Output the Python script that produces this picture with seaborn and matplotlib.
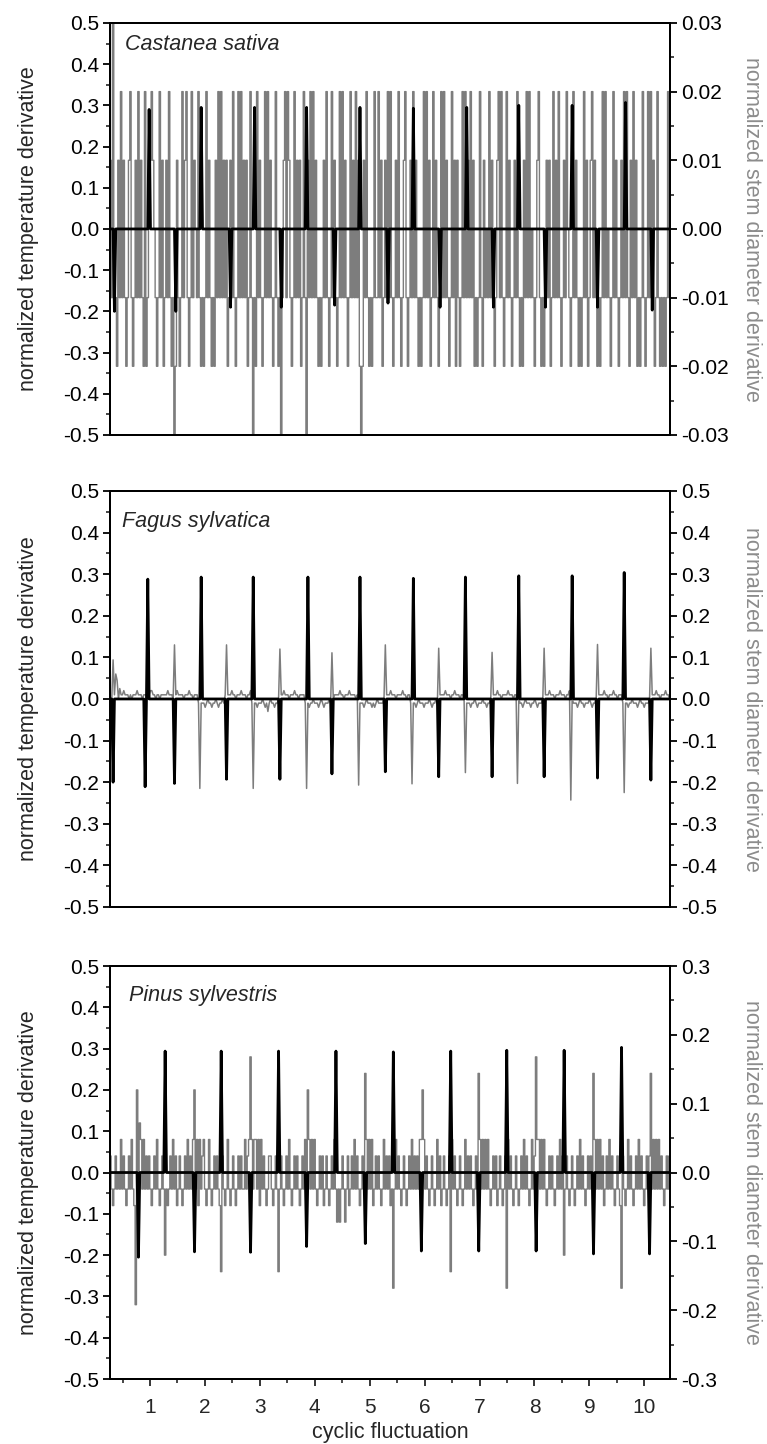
import numpy as np
import matplotlib
matplotlib.use("Agg")
import matplotlib.pyplot as plt
from matplotlib.ticker import MultipleLocator, FuncFormatter
import seaborn as sns

# sampling window of the recordings (cyclic fluctuation units)
X_START, X_END = 0.28, 10.46
# stem noise codes: a..g -> -3..+3 quantisation steps
LEVELS = "abcdefg"

# ---- Castanea sativa ----
cs_temp_peak_x = [0.98, 1.94, 2.90, 3.86, 4.83, 5.79, 6.76, 7.72, 8.69, 9.66]
cs_temp_peak_y = [0.290, 0.295, 0.295, 0.295, 0.295, 0.293, 0.295, 0.300, 0.300, 0.307]
cs_temp_dip_x = [0.36, 1.47, 2.46, 3.40, 4.37, 5.33, 6.28, 7.25, 8.20, 9.16, 10.14]
cs_temp_dip_y = [-0.200, -0.200, -0.190, -0.190, -0.185, -0.180, -0.190, -0.190, -0.190, -0.190, -0.197]
cs_stem_spike_x = [0.33, 1.45, 2.89, 3.39, 3.86, 4.84]
cs_stem_spike_y = [0.03, -0.03, -0.03, -0.03, -0.03, -0.03]
cs_stem_step = 0.01
cs_stem_noise = "".join([
    "ecfdcbecfc", "ecbcefcbce", "cfcecbfbce", "efedcbcfce", "bcecfcbceb",
    "ecbcfcefcb", "cfcedcfcbc", "bcfcecbcbe", "cfcfcecebc", "ecfcbcfcfc",
    "ecebcfcecb", "fcecbcfcfc", "ecbcfcbcbc", "efcfecbcfc", "ecebcfcbec",
    "fcfcecbcbc", "ecfcbcfcec", "bcfcfcecbc", "fcecfcebcb", "ecfcbcbcfc",
    "cfcebcecfc", "fcbcecfcbc", "efcbcecfce", "cbcbcfcfce", "bcfcecbcfc",
    "fcecbcfceb", "ecbcfcfcec", "fcebcbcfcb", "ecdcfcecbc", "efcfcbcfce",
    "cbcecfcbcb", "ecfcfcdcbc", "efcbcbcece", "bcfcecfcbc", "ecfdcbcfce",
    "cbcbcfcebc", "efcecbcbcf", "cfcdcbcfce", "cbcecfcfcb", "ecfcebcbcf",
    "cbcfcfcebc", "fcbcbcbcfc",
])

# ---- Fagus sylvatica ----
fs_temp_peak_x = [0.96, 1.93, 2.88, 3.87, 4.82, 5.79, 6.75, 7.71, 8.68, 9.64]
fs_temp_peak_y = [0.288, 0.293, 0.293, 0.293, 0.293, 0.290, 0.293, 0.296, 0.296, 0.304]
fs_temp_dip_x = [0.33, 0.92, 1.44, 2.40, 3.37, 4.32, 5.29, 6.26, 7.23, 8.17, 9.15, 10.11]
fs_temp_dip_y = [-0.200, -0.211, -0.203, -0.193, -0.193, -0.180, -0.175, -0.187, -0.187, -0.187, -0.190, -0.195]
fs_stem_peak_x = [0.33, 0.37, 0.40, 0.44, 1.44, 2.40, 3.37, 4.32, 5.29, 6.26, 7.23, 8.17, 9.15, 10.11]
fs_stem_peak_y = [0.094, 0.060, 0.045, 0.025, 0.130, 0.130, 0.120, 0.111, 0.130, 0.122, 0.112, 0.122, 0.131, 0.122]
fs_stem_dip_x = [1.91, 2.88, 3.85, 4.81, 5.77, 6.75, 7.70, 8.67, 9.63]
fs_stem_dip_y = [-0.215, -0.215, -0.215, -0.207, -0.204, -0.177, -0.203, -0.243, -0.225]
fs_stem_step = 0.01
fs_stem_noise = "".join([
    "ddd",
    "eeedeeef", "eeededee", "efeeedee", "eeeffeed", "eedeeeee", "feeedeef", "eeeedeee", "feedeeec",
    "dcccbcdccbccdcbccdce", "deeefeedeeefeeedeefc", "dccbcccdcbcacdccbccd",
    "deefeeedeeefeedeeeec", "dcbccdcccbcdcbcccdcc", "deeeefeedeeefeeeede",
    "dcccbcdcccbcbcdccccd", "deeefeeedeeeefeedeec", "dccbcdcccbcccdcbccdc",
    "deeeefeeedeefeeedeed", "dcccbccdcbcccdccbccd", "deeefeedeeeefeeedeec",
    "dccbcdcccbccdcbcccd", "deeefeeedeeefeeedeefe", "dcccbcdccbcccdcbccd",
    "deeeefeedeeefeedeeec", "dccbccdcccbcdccbcccd", "deeefeedeeefeed",
])

# ---- Pinus sylvestris ----
ps_temp_peak_x = [1.27, 2.30, 3.33, 4.38, 5.43, 6.47, 7.50, 8.54, 9.58]
ps_temp_peak_y = [0.294, 0.294, 0.294, 0.294, 0.292, 0.294, 0.296, 0.296, 0.303]
ps_temp_dip_x = [0.79, 1.81, 2.83, 3.86, 4.91, 5.94, 6.99, 8.02, 9.07, 10.10]
ps_temp_dip_y = [-0.205, -0.192, -0.193, -0.179, -0.172, -0.190, -0.190, -0.190, -0.197, -0.197]
ps_stem_peak_x = [0.77, 0.81, 1.80, 2.83, 3.87, 4.93, 5.96, 6.99, 8.02, 9.07, 10.11]
ps_stem_peak_y = [0.120, 0.072, 0.120, 0.168, 0.120, 0.144, 0.120, 0.144, 0.168, 0.144, 0.144]
ps_stem_dip_x = [0.74, 1.27, 2.30, 3.33, 5.43, 6.47, 7.50, 8.55, 9.58]
ps_stem_dip_y = [-0.192, -0.120, -0.144, -0.144, -0.168, -0.144, -0.168, -0.120, -0.168]
ps_stem_step = 0.024
ps_stem_noise = "".join([
    "ecbcecdcfc", "ecbcecfcbc", "ecffcfcece", "cbcecfcbce", "cecbcecfce",
    "bcecbcecfc", "ecffcfbfce", "fcbcfcbcec", "ecbcecbcfc", "bcecbcecec",
    "cfcefcfcff", "cfbfcecbce", "ecbcecfcec", "bcecfcbcec", "ecbcecfcff",
    "cfcfcbcece", "bcecbcecfc", "acacecaceb", "cecfcecbce", "cffcfcfbce",
    "cecbcfcece", "bcecfcecbc", "ecbcecfcec", "ecffcfcecb", "cecbcfcebc",
    "ecbcecfcec", "bcecbcfcec", "ecbcecffcf", "cfcfcbcece", "bcecbcecfc",
    "ecbcecbcec", "fcecbcfcec", "ffcfcfcbce", "cecbcecfce", "bcecbcecbc",
    "ecfcecbcec", "ecffcfcfce", "bcecfcecbc", "ecbcecbcfc", "ecbcecfcec",
    "bcecefcfcf", "cfcecbcece",
])

GRAY_LINE = "#7d7d7d"
GRAY_TEXT = "#8c8c8c"


def decode(codes, step):
    return np.array([(LEVELS.index(c) - 3) * step for c in codes])


def build_series(n, xs, ys, base=None):
    grid = np.linspace(X_START, X_END, n)
    vals = np.zeros(n) if base is None else base.copy()
    for x, y in zip(xs, ys):
        vals[np.abs(grid - x).argmin()] = y
    return grid, vals


def fmt(decimals):
    return FuncFormatter(lambda v, _: f"{round(v, 4) + 0:.{decimals}f}")


sns.set_style("ticks")
plt.rcParams["font.family"] = ["Liberation Sans", "DejaVu Sans"]
plt.rcParams["axes.unicode_minus"] = False

fig = plt.figure(figsize=(7.67, 14.44), dpi=100)

panels = [
    dict(rect=[0.1434, 0.6988, 0.730, 0.2853], name="Castanea sativa", name_xy=(0.027, 0.972),
         noise=cs_stem_noise, step=cs_stem_step,
         stem_x=cs_stem_spike_x, stem_y=cs_stem_spike_y,
         temp_x=cs_temp_peak_x + cs_temp_dip_x, temp_y=cs_temp_peak_y + cs_temp_dip_y,
         rlim=0.03, rmajor=0.01, rminor=0.005, rdec=2, lw=1.0, draw="steps-mid"),
    dict(rect=[0.1434, 0.3719, 0.730, 0.2881], name="Fagus sylvatica", name_xy=(0.021, 0.952),
         noise=fs_stem_noise, step=fs_stem_step,
         stem_x=fs_stem_peak_x + fs_stem_dip_x, stem_y=fs_stem_peak_y + fs_stem_dip_y,
         temp_x=fs_temp_peak_x + fs_temp_dip_x, temp_y=fs_temp_peak_y + fs_temp_dip_y,
         rlim=0.5, rmajor=0.1, rminor=0.05, rdec=1, lw=1.1, draw="default"),
    dict(rect=[0.1434, 0.0450, 0.730, 0.2860], name="Pinus sylvestris", name_xy=(0.034, 0.954),
         noise=ps_stem_noise, step=ps_stem_step,
         stem_x=ps_stem_peak_x + ps_stem_dip_x, stem_y=ps_stem_peak_y + ps_stem_dip_y,
         temp_x=ps_temp_peak_x + ps_temp_dip_x, temp_y=ps_temp_peak_y + ps_temp_dip_y,
         rlim=0.3, rmajor=0.1, rminor=0.05, rdec=1, lw=1.0, draw="steps-mid"),
]

for k, p in enumerate(panels):
    ax = fig.add_axes(p["rect"])
    ax2 = ax.twinx()
    n = len(p["noise"])
    gx, gy = build_series(n, p["stem_x"], p["stem_y"], decode(p["noise"], p["step"]))
    tx, ty = build_series(n, p["temp_x"], p["temp_y"])

    sns.lineplot(x=gx, y=gy, ax=ax2, color=GRAY_LINE, linewidth=p["lw"],
                 drawstyle=p["draw"], snap=False, estimator=None, sort=False, legend=False)
    sns.lineplot(x=tx, y=ty, ax=ax, color="black", linewidth=2.0,
                 estimator=None, sort=False, legend=False)
    ax.set_zorder(ax2.get_zorder() + 1)
    ax.patch.set_visible(False)

    ax.set_xlim(0.272, 10.466)
    ax.set_ylim(-0.5, 0.5)
    ax2.set_ylim(-p["rlim"], p["rlim"])

    ax.yaxis.set_major_locator(MultipleLocator(0.1))
    ax.yaxis.set_minor_locator(MultipleLocator(0.05))
    ax.yaxis.set_major_formatter(fmt(1))
    ax2.yaxis.set_major_locator(MultipleLocator(p["rmajor"]))
    ax2.yaxis.set_minor_locator(MultipleLocator(p["rminor"]))
    ax2.yaxis.set_major_formatter(fmt(p["rdec"]))

    for a in (ax, ax2):
        for s in a.spines.values():
            s.set_visible(True)
            s.set_linewidth(1.4)
            s.set_color("black")
        a.tick_params(axis="y", which="major", direction="out", length=5, width=1.3,
                      labelsize=15, pad=3, colors="black")
        a.tick_params(axis="y", which="minor", direction="out", length=3, width=1.2)

    ax.set_ylabel("normalized temperature derivative", fontsize=15.5, va="center")
    ax.yaxis.set_label_coords(-0.146, 0.5)
    ax2.set_ylabel("normalized stem diameter derivative", fontsize=15.5, color=GRAY_TEXT,
                   rotation=270, va="center")
    ax2.yaxis.set_label_coords(1.145, 0.5)

    ax.text(p["name_xy"][0], p["name_xy"][1], p["name"], transform=ax.transAxes,
            fontsize=15.5, style="italic", ha="left", va="top")

    if k < 2:
        ax.tick_params(axis="x", which="both", bottom=False, labelbottom=False)
        ax.set_xlabel("")
    else:
        ax.set_xticks(range(1, 11))
        ax.xaxis.set_minor_locator(MultipleLocator(0.5))
        ax.tick_params(axis="x", which="major", direction="out", length=5, width=1.3,
                       labelsize=15, pad=9)
        ax.tick_params(axis="x", which="minor", direction="out", length=3, width=1.2)
        ax.set_xlabel("cyclic fluctuation", fontsize=15.5, labelpad=3)

fig.savefig("out.png", dpi=100)
